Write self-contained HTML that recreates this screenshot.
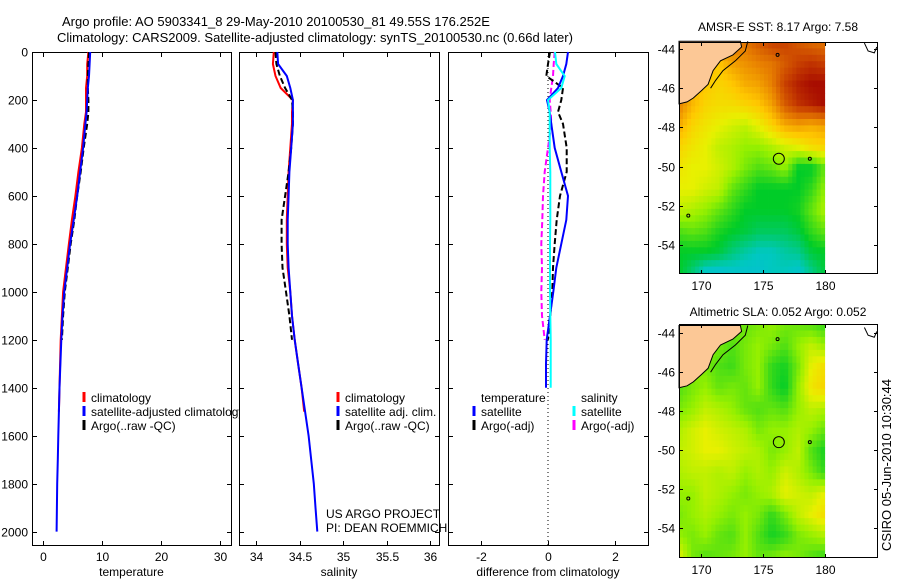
<!DOCTYPE html>
<html><head><meta charset="utf-8">
<style>
html,body{margin:0;padding:0;background:#fff;}
svg{display:block;font-family:"Liberation Sans",sans-serif;}
text{font-size:12px;fill:#000;}
</style></head>
<body>
<svg id="fig" width="900" height="580" viewBox="0 0 900 580" xmlns="http://www.w3.org/2000/svg">
<rect x="0" y="0" width="900" height="580" fill="#fff"/>
<text x="62" y="26" style="font-size:13px">Argo profile: AO 5903341_8 29-May-2010 20100530_81 49.55S 176.252E</text>
<text x="57" y="42" style="font-size:13px">Climatology: CARS2009. Satellite-adjusted climatology: synTS_20100530.nc (0.66d later)</text>
<g id="p1"></g>
<g id="p2"></g>
<g id="p3"></g>
<g id="m1"></g>
<g id="m2"></g>
<text x="0" y="0" transform="translate(891,465) rotate(-90)" text-anchor="middle" style="font-size:13px">CSIRO 05-Jun-2010 10:30:44</text>
</svg>
<script>
// ---------- profile data ----------
const depths = [0,50,100,150,200,250,300,400,500,600,700,800,900,1000,1100,1200,1300,1400,1500,1600,1700,1800,1900,2000];
const tempSat = [8.0,7.9,7.8,7.6,7.5,7.4,7.2,6.8,6.3,5.8,5.2,4.6,4.1,3.6,3.3,3.1,2.95,2.8,2.7,2.6,2.5,2.4,2.35,2.3];
const tempClim = [7.7,7.5,7.5,7.3,7.3,7.3,7.0,6.6,6.0,5.5,4.9,4.4,3.9,3.4,3.2,3.0,2.9,2.8,2.7];
const tempArgo = [7.8,7.7,7.6,7.6,7.7,7.7,7.5,6.9,6.4,5.8,5.3,4.7,4.2,3.7,3.4,3.2];
const salSat = [34.24,34.25,34.35,34.39,34.42,34.42,34.42,34.40,34.38,34.37,34.36,34.36,34.37,34.39,34.41,34.44,34.48,34.52,34.56,34.60,34.63,34.66,34.68,34.70];
const salClim = [34.20,34.19,34.22,34.28,34.42,34.41,34.41,34.39,34.37,34.36,34.35,34.35,34.36,34.39,34.41,34.44,34.48,34.52,34.55];
const salArgo = [34.22,34.23,34.27,34.33,34.41,34.42,34.42,34.40,34.37,34.33,34.29,34.29,34.30,34.34,34.38,34.41];
const diffDepths = [0,50,100,150,200,250,300,400,500,600,700,800,900,1000,1100,1200,1300,1400];
const diffTempSat = [0.6,0.55,0.45,0.3,-0.03,0.05,0.1,0.2,0.4,0.6,0.55,0.4,0.25,0.16,0.06,-0.04,-0.06,-0.06];
const diffTempArgo = [0.06,0.0,-0.05,0.45,0.4,0.3,0.45,0.56,0.56,0.36,0.26,0.2,0.15,0.13,0.07,0.0];
const diffSalSat = [0.21,0.25,0.5,0.4,0.0,0.05,0.05,0.05,0.07,0.07,0.07,0.06,0.06,0.06,0.07,0.08,0.08,0.08];
const diffSalArgo = [0.2,0.17,0.15,0.1,0.05,0.08,0.1,0.0,-0.1,-0.15,-0.17,-0.2,-0.18,-0.2,-0.18,-0.1];
const depthTicks = [0,200,400,600,800,1000,1200,1400,1600,1800,2000];
const tempTicks = [0,10,20,30];
const salTicks = [34,34.5,35,35.5,36];
const salTickLabels = ["34","34.5","35","35.5","36"];
const diffTicks = [-2,0,2];

// ---------- map data (colour index 0..1, north->south rows, west->east cols) ----------
const sstGrid = [
[.85,.8,.8,.75,.8,.8,.85,.9,.9,.85,.82,.8],
[.8,.75,.7,.65,.72,.75,.78,.8,.85,.9,.92,.9],
[.75,.7,.65,.62,.65,.7,.72,.78,.9,.95,.98,.98],
[.78,.68,.62,.6,.6,.62,.65,.72,.85,.92,.95,.98],
[.7,.62,.58,.55,.52,.5,.55,.62,.7,.72,.7,.72],
[.62,.58,.55,.5,.48,.45,.45,.48,.52,.55,.6,.62],
[.58,.55,.55,.52,.48,.42,.38,.4,.45,.3,.3,.4],
[.55,.55,.52,.5,.4,.35,.3,.3,.3,.3,.35,.45],
[.5,.48,.45,.4,.35,.3,.3,.3,.3,.32,.4,.48],
[.38,.4,.38,.33,.3,.28,.25,.25,.25,.28,.35,.4],
[.3,.3,.3,.28,.22,.18,.15,.15,.18,.2,.28,.3],
[.3,.22,.12,.1,.12,.12,.12,.15,.15,.12,.2,.28]];
const slaGrid = [
[.35,.38,.4,.42,.42,.4,.42,.45,.42,.4,.38,.35],
[.4,.42,.45,.42,.38,.42,.45,.42,.38,.45,.5,.45],
[.42,.45,.42,.38,.36,.42,.45,.35,.32,.42,.55,.6],
[.38,.42,.45,.4,.42,.4,.45,.35,.3,.45,.58,.62],
[.42,.45,.5,.48,.45,.4,.38,.4,.38,.45,.5,.48],
[.48,.52,.55,.52,.5,.48,.42,.45,.45,.48,.45,.4],
[.5,.52,.55,.55,.52,.5,.48,.42,.45,.5,.38,.32],
[.48,.5,.5,.48,.5,.45,.48,.45,.52,.48,.42,.35],
[.45,.45,.5,.48,.45,.42,.45,.48,.55,.52,.5,.55],
[.42,.45,.48,.45,.42,.45,.42,.35,.42,.5,.55,.6],
[.45,.42,.45,.4,.38,.45,.38,.32,.35,.42,.45,.48],
[.55,.42,.38,.4,.42,.45,.4,.42,.45,.42,.38,.35]];
const lonTicks = [170,175,180];
const latTicks = [-44,-46,-48,-50,-52,-54];
const floatLon = 176.3, floatLat = -49.6;

const NS = "http://www.w3.org/2000/svg";
function mk(parent, tag, attrs, text){
  const e = document.createElementNS(NS, tag);
  for (const k in attrs) e.setAttribute(k, attrs[k]);
  if (text !== undefined) e.textContent = text;
  parent.appendChild(e);
  return e;
}
const TOP = 52, BOT = 545;
function yD(d){ return TOP + d*0.2398; }

function panel(g, x0, x1, xmin, xmax, ticks, labels, title, showY){
  const xs = v => x0 + (v - xmin)/(xmax - xmin)*(x1 - x0);
  const fr = mk(g,'rect',{x:x0+0.5,y:TOP+0.5,width:x1-x0,height:BOT-TOP,fill:'#fff',stroke:'#000','stroke-width':1});
  
  
  depthTicks.forEach(d=>{
    const y = Math.round(yD(d))+0.5;
    const t1 = mk(g,'line',{x1:x0,x2:x0+5,y1:y,y2:y,stroke:'#000'});
    
    
    const t2 = mk(g,'line',{x1:x1+1,x2:x1-4,y1:y,y2:y,stroke:'#000'});
    
    
    if (showY){
      const l = mk(g,'text',{x:x0-4,y:y+4,'text-anchor':'end'},String(d));
      
      
    }
  });
  ticks.forEach((v,i)=>{
    const x = Math.round(xs(v))+0.5;
    const t1 = mk(g,'line',{x1:x,x2:x,y1:BOT+1,y2:BOT-4,stroke:'#000'});
    
    
    const t2 = mk(g,'line',{x1:x,x2:x,y1:TOP,y2:TOP+5,stroke:'#000'});
    
    
    const l = mk(g,'text',{x:x,y:561,'text-anchor':'middle'},labels[i]);
    
    
  });
  const tt = mk(g,'text',{x:(x0+x1)/2,y:576,'text-anchor':'middle'},title);
  
  
  return xs;
}
function line(g, xs, ds, vals, color, dash, name){
  let pts = vals.map((v,i)=> xs(v).toFixed(1)+','+yD(ds[i]).toFixed(1)).join(' ');
  const p = mk(g,'polyline',{points:pts,fill:'none',stroke:color,'stroke-width':2,'stroke-dasharray':dash||'none'});
  
  
}
function legend(g, x, y, color, label, dashed, name){
  const m = mk(g,'line',{x1:x,x2:x,y1:y-10,y2:y,stroke:color,'stroke-width':3});
  
  
  const t = mk(g,'text',{x:x+7,y:y},label);
  
  
}

// Panel 3 first? Order: draw p1, p2, p3 so p2's white frame clips p1 legend overflow
const g1 = document.getElementById('p1');
const g2 = document.getElementById('p2');
const g3 = document.getElementById('p3');
const xT = panel(g1, 32, 231, -1.87, 31.9, tempTicks, tempTicks.map(String), 'temperature', true);
line(g1,xT,depths,tempClim,'#ff0000','', 'temp-climatology-line');
line(g1,xT,depths,tempArgo,'#000000','6,3','temp-argo-line');
line(g1,xT,depths,tempSat,'#0000ff','', 'temp-satellite-line');
legend(g1,84,402,'#ff0000','climatology',false,'legend-climatology');
legend(g1,84,416,'#0000ff','satellite-adjusted climatology',false,'legend-satellite');
legend(g1,84,430,'#000000','Argo(..raw -QC)',true,'legend-argo');

const xS = panel(g2, 239, 439, 33.8, 36.1, salTicks, salTickLabels, 'salinity', false);
line(g2,xS,depths,salClim,'#ff0000','', 'sal-climatology-line');
line(g2,xS,depths,salArgo,'#000000','6,3','sal-argo-line');
line(g2,xS,depths,salSat,'#0000ff','', 'sal-satellite-line');
legend(g2,338,402,'#ff0000','climatology',false,'legend2-climatology');
legend(g2,338,416,'#0000ff','satellite adj. clim.',false,'legend2-satellite');
legend(g2,338,430,'#000000','Argo(..raw -QC)',true,'legend2-argo');
const c1 = mk(g2,'text',{x:326,y:518},'US ARGO PROJECT');


const c2 = mk(g2,'text',{x:326,y:532},'PI: DEAN ROEMMICH');



const xD = panel(g3, 448, 648, -3, 3, diffTicks, diffTicks.map(String), 'difference from climatology', false);
const zl = mk(g3,'line',{x1:xD(0),x2:xD(0),y1:TOP,y2:BOT,stroke:'#000','stroke-dasharray':'1,3'});


line(g3,xD,diffDepths,diffSalArgo,'#ff00ff','6,3','diff-sal-argo-line');
line(g3,xD,diffDepths,diffTempArgo,'#000000','6,3','diff-temp-argo-line');
line(g3,xD,diffDepths,diffTempSat,'#0000ff','', 'diff-temp-satellite-line');
line(g3,xD,diffDepths,diffSalSat,'#00ffff','', 'diff-sal-satellite-line');
const lt = mk(g3,'text',{x:481,y:402},'temperature');


const ls = mk(g3,'text',{x:581,y:402},'salinity');


legend(g3,474,416,'#0000ff','satellite',false,'legend3-temp-satellite');
legend(g3,474,430,'#000000','Argo(-adj)',true,'legend3-temp-argo');
legend(g3,574,416,'#00ffff','satellite',false,'legend3-sal-satellite');
legend(g3,574,430,'#ff00ff','Argo(-adj)',true,'legend3-sal-argo');

// ---------- maps ----------
const cmapStops = [[0,[16,168,255]],[0.15,[0,200,192]],[0.3,[0,204,40]],[0.45,[150,240,0]],[0.55,[232,240,0]],[0.65,[255,200,0]],[0.78,[232,128,0]],[0.9,[200,64,0]],[1,[160,0,0]]];
function cmap(v){
  v = Math.max(0,Math.min(1,v));
  for (let i=1;i<cmapStops.length;i++){
    if (v<=cmapStops[i][0]){
      const a=cmapStops[i-1], b=cmapStops[i], f=(v-a[0])/(b[0]-a[0]);
      return 'rgb('+a[1].map((c,k)=>Math.round(c+(b[1][k]-c)*f)).join(',')+')';
    }
  }
  return 'rgb(160,0,0)';
}
function sample(grid, fx, fy){
  const n = grid.length, m = grid[0].length;
  const x = fx*(m-1), y = fy*(n-1);
  const i0 = Math.floor(y), j0 = Math.floor(x), i1 = Math.min(n-1,i0+1), j1 = Math.min(m-1,j0+1);
  const dy = y-i0, dx = x-j0;
  return grid[i0][j0]*(1-dx)*(1-dy)+grid[i0][j1]*dx*(1-dy)+grid[i1][j0]*(1-dx)*dy+grid[i1][j1]*dx*dy;
}
function drawMap(g, top, bot, lat44y, pxPerLat, grid, title, titleY){
  const left = 679, right = 877;
  const xM = lon => 700.7 + (lon-170)*12.4;
  const yM = lat => lat44y + (-44-lat)*pxPerLat;
  const dataRight = xM(180);
  const NX = 36, NY = 36;
  const cw = (dataRight-left)/NX, ch = (bot-top)/NY;
  for (let i=0;i<NY;i++) for (let j=0;j<NX;j++){
    const v = sample(grid, (j+0.5)/NX, (i+0.5)/NY);
    const r = mk(g,'rect',{x:(left+j*cw).toFixed(2),y:(top+i*ch).toFixed(2),width:(cw+0.4).toFixed(2),height:(ch+0.4).toFixed(2),fill:cmap(v)});
    
    
  }
  // land (South Island NZ)
  const land = [[168.25,-43.6],[173.2,-43.6],[173.3,-43.9],[172.6,-44.3],[171.6,-44.6],[171,-45.1],[170.6,-45.8],[170.1,-46.1],[169.4,-46.5],[168.9,-46.7],[168.25,-46.8]];
  const lp = mk(g,'polygon',{points:land.map(p=>xM(p[0]).toFixed(1)+','+yM(p[1]).toFixed(1)).join(' '),fill:'#fcc896',stroke:'#000','stroke-width':1});
  
  
  // shelf contour line
  const shelf = [[173.8,-43.6],[173.6,-44.1],[172.8,-44.6],[171.8,-45.1],[171.2,-45.6],[170.8,-46.0]];
  const sp = mk(g,'polyline',{points:shelf.map(p=>xM(p[0]).toFixed(1)+','+yM(p[1]).toFixed(1)).join(' '),fill:'none',stroke:'#000','stroke-width':1});
  
  
  // Chatham islands outline
  const ch1 = [[183.2,-43.7],[183.5,-44.1],[184.0,-44.2],[184.2,-43.9]];
  const cp = mk(g,'polyline',{points:ch1.map(p=>xM(p[0]).toFixed(1)+','+yM(p[1]).toFixed(1)).join(' '),fill:'none',stroke:'#000','stroke-width':1});
  
  
  [[176.2,-44.3],[178.8,-49.6],[169.0,-52.5]].forEach(p=>{
    const c = mk(g,'circle',{cx:xM(p[0]),cy:yM(p[1]),r:1.5,fill:'none',stroke:'#000'});
    
    
  });
  const fl = mk(g,'circle',{cx:xM(floatLon),cy:yM(floatLat),r:5.5,fill:'none',stroke:'#000'});
  
  
  const fr = mk(g,'rect',{x:left+0.5,y:top+0.5,width:right-left,height:bot-top,fill:'none',stroke:'#000'});
  
  
  lonTicks.forEach(lon=>{
    const x = Math.round(xM(lon))+0.5;
    const a = mk(g,'line',{x1:x,x2:x,y1:top,y2:top+4,stroke:'#000'});
    
    
    const b = mk(g,'line',{x1:x,x2:x,y1:bot+1,y2:bot-3,stroke:'#000'});
    
    
    const l = mk(g,'text',{x:x,y:bot+17,'text-anchor':'middle'},String(lon));
    
    
  });
  latTicks.forEach(lat=>{
    const y = Math.round(yM(lat))+0.5;
    const a = mk(g,'line',{x1:left,x2:left+4,y1:y,y2:y,stroke:'#000'});
    
    
    const b = mk(g,'line',{x1:right+1,x2:right-3,y1:y,y2:y,stroke:'#000'});
    
    
    const l = mk(g,'text',{x:left-4,y:y+4,'text-anchor':'end'},String(lat));
    
    
  });
  const t = mk(g,'text',{x:(left+right)/2,y:titleY,'text-anchor':'middle'},title);
  
  
}
drawMap(document.getElementById('m1'), 42, 273, 49, 19.6, sstGrid, 'AMSR-E SST: 8.17 Argo: 7.58', 31);
drawMap(document.getElementById('m2'), 324, 557, 333.3, 19.44, slaGrid, 'Altimetric SLA: 0.052 Argo: 0.052', 316);
</script>
</body></html>
